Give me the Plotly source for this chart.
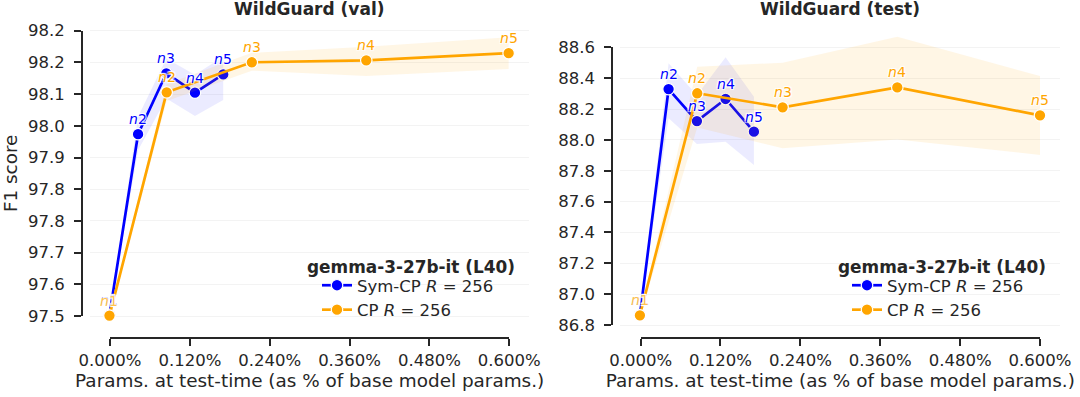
import plotly.graph_objects as go

FONT = "DejaVu Sans"
INK = "#262626"
BLUE = "blue"
ORANGE = "orange"
BLUE_BAND = "rgba(0,0,255,0.08)"
ORANGE_BAND = "rgba(255,165,0,0.10)"

W, H = 1080, 397

# params at test-time (% of base model params)
sym_params = [0.0, 0.043, 0.0855, 0.1285, 0.171]
cp_params = [0.0, 0.086, 0.214, 0.386, 0.600]
point_names = ["n1", "n2", "n3", "n4", "n5"]

# WildGuard (val) F1
val_sym = [97.503, 97.978, 98.138, 98.087, 98.135]
val_sym_lo = [97.498, 97.936, 98.072, 98.026, 98.068]
val_sym_hi = [97.508, 98.024, 98.177, 98.134, 98.182]
val_cp = [97.501, 98.088, 98.167, 98.172, 98.191]
val_cp_lo = [97.496, 98.065, 98.145, 98.131, 98.149]
val_cp_hi = [97.506, 98.110, 98.192, 98.208, 98.233]

# WildGuard (test) F1
test_sym = [86.863, 88.329, 88.122, 88.265, 88.053]
test_sym_lo = [86.858, 88.140, 87.973, 87.988, 87.837]
test_sym_hi = [86.868, 88.496, 88.290, 88.535, 88.280]
test_cp = [86.863, 88.302, 88.211, 88.340, 88.159]
test_cp_lo = [86.858, 88.080, 87.945, 88.003, 87.902]
test_cp_hi = [86.868, 88.474, 88.500, 88.668, 88.414]

x_ticks = [0.0, 0.12, 0.24, 0.36, 0.48, 0.60]
x_ticktext = ["0.000%", "0.120%", "0.240%", "0.360%", "0.480%", "0.600%"]
val_yticks = [97.5, 97.58333, 97.66667, 97.75, 97.83333, 97.91667, 98.0, 98.08333, 98.16667, 98.25]
val_yticktext = ["97.5", "97.6", "97.7", "97.8", "97.8", "97.9", "98.0", "98.1", "98.2", "98.2"]
test_yticks = [86.8, 87.0, 87.2, 87.4, 87.6, 87.8, 88.0, 88.2, 88.4, 88.6]
test_yticktext = ["86.8", "87.0", "87.2", "87.4", "87.6", "87.8", "88.0", "88.2", "88.4", "88.6"]

legend_title = "<b>gemma-3-27b-it (L40)</b>"
sym_name = "Sym-CP <i>R</i> = 256"
cp_name = "CP <i>R</i> = 256"


def px_x(p):
    return p / W


def px_y(p):
    return 1 - p / H


# pixel geometry of each panel (plot box, trimmed spines, tick pixel rows, legend)
panels = [
    dict(title="WildGuard (val)", sym=(val_sym, val_sym_lo, val_sym_hi),
         cp=(val_cp, val_cp_lo, val_cp_hi), yticks=val_yticks, yticktext=val_yticktext,
         box_x=(89.5, 528.6), spine_x=(110, 509.3), yspine_px=82,
         tick_px=(316, 30.7), legend_px=(317, 268), legtitle_px=(411, 267)),
    dict(title="WildGuard (test)", sym=(test_sym, test_sym_lo, test_sym_hi),
         cp=(test_cp, test_cp_lo, test_cp_hi), yticks=test_yticks, yticktext=test_yticktext,
         box_x=(619.9, 1060), spine_x=(640.6, 1040), yspine_px=612.3,
         tick_px=(325, 47.3), legend_px=(847, 268), legtitle_px=(942, 267)),
]
box_y = (330, 22)
xspine_px = 338.3

shadow = "1px 1px 1px white, -1px -1px 1px white, 1px -1px 1px white, -1px 1px 1px white"

fig = go.Figure()
layout = {}
annotations = []

for i, p in enumerate(panels):
    n = i + 1
    xa, ya = "x" if n == 1 else "x%d" % n, "y" if n == 1 else "y%d" % n
    sx, sy = "x%d" % (n + 2), "y%d" % (n + 2)
    leg = "legend" if n == 1 else "legend2"

    # data y range so that tick values land on the tick pixel rows
    lo_px, hi_px = p["tick_px"]
    t0, t1 = p["yticks"][0], p["yticks"][-1]
    upp = (t1 - t0) / (lo_px - hi_px)
    yrange = [t0 - (box_y[0] - lo_px) * upp, t1 + (hi_px - box_y[1]) * upp]

    for params, (mid, lo, hi), col, band, name in [
        (sym_params, p["sym"], BLUE, BLUE_BAND, sym_name),
        (cp_params, p["cp"], ORANGE, ORANGE_BAND, cp_name),
    ]:
        fig.add_scatter(x=params, y=lo, xaxis=xa, yaxis=ya, mode="lines",
                        line=dict(width=0), showlegend=False, hoverinfo="skip")
        fig.add_scatter(x=params, y=hi, xaxis=xa, yaxis=ya, mode="lines",
                        line=dict(width=0), fill="tonexty", fillcolor=band,
                        showlegend=False, hoverinfo="skip")
        fig.add_scatter(x=params, y=mid, xaxis=xa, yaxis=ya, mode="lines+markers",
                        name=name, legend=leg,
                        line=dict(color=col, width=2.7),
                        marker=dict(size=11.5, color=col, line=dict(color="white", width=1.2)))
        for k, (xv, yv) in enumerate(zip(params, mid)):
            # the shared n1 label is the top (orange) one, drawn a bit paler
            lab_col = "#ffc44f" if (k == 0 and col == ORANGE) else col
            annotations.append(dict(
                x=xv, y=yv, xref=xa, yref=ya, text="<i>n</i>" + point_names[k][1:],
                showarrow=False, yshift=15,
                font=dict(family=FONT, size=14, color=lab_col, shadow=shadow)))

    # dummy trace so the spine subplot is drawn
    fig.add_scatter(x=[None], y=[None], xaxis=sx, yaxis=sy, showlegend=False, hoverinfo="skip")

    layout["xaxis" if n == 1 else "xaxis%d" % n] = dict(
        domain=[px_x(p["box_x"][0]), px_x(p["box_x"][1])], range=[-0.03, 0.63],
        showgrid=False, zeroline=False, showline=False, showticklabels=False, ticks="",
        anchor=ya, automargin=False)
    layout["yaxis" if n == 1 else "yaxis%d" % n] = dict(
        domain=[px_y(box_y[0]), px_y(box_y[1])], range=yrange,
        tickvals=p["yticks"], showgrid=True, gridcolor="#f3f3f3", gridwidth=1,
        zeroline=False, showline=False, showticklabels=False, ticks="", anchor=xa,
        automargin=False)

    layout["xaxis%d" % (n + 2)] = dict(
        domain=[px_x(p["spine_x"][0]), px_x(p["spine_x"][1])], range=[0, 0.6],
        anchor="free", position=px_y(xspine_px), automargin=False,
        showline=True, linecolor=INK, linewidth=2, ticks="outside", ticklen=7,
        tickwidth=2, tickcolor=INK, tickvals=x_ticks, ticktext=x_ticktext,
        showgrid=False, zeroline=False,
        tickfont=dict(family=FONT, size=16.5, color=INK),
        title=dict(text="Params. at test-time (as % of base model params.)",
                   font=dict(family=FONT, size=18.4, color=INK), standoff=4))
    layout["yaxis%d" % (n + 2)] = dict(
        domain=[px_y(lo_px), px_y(hi_px)], range=[t0, t1],
        anchor="free", position=px_x(p["yspine_px"]), side="left", automargin=False,
        showline=True, linecolor=INK, linewidth=2, ticks="outside", ticklen=7,
        tickwidth=2, tickcolor=INK, tickvals=p["yticks"], ticktext=p["yticktext"],
        ticklabelstandoff=6, showgrid=False, zeroline=False,
        tickfont=dict(family=FONT, size=16.5, color=INK),
        title=dict(text="F1 score" if n == 1 else "",
                   font=dict(family=FONT, size=18.4, color=INK), standoff=8))

    layout[leg] = dict(
        x=px_x(p["legend_px"][0]), y=px_y(p["legend_px"][1]), xanchor="left", yanchor="top",
        bgcolor="rgba(0,0,0,0)", font=dict(family=FONT, size=16.5, color=INK),
        traceorder="normal", tracegroupgap=0, itemwidth=30)

    annotations.append(dict(
        x=px_x(p["legtitle_px"][0]), y=px_y(p["legtitle_px"][1]), xref="paper", yref="paper",
        text=legend_title, showarrow=False, xanchor="center", yanchor="middle",
        font=dict(family=FONT, size=16.9, color=INK)))
    annotations.append(dict(
        x=px_x(sum(p["box_x"]) / 2), y=px_y(9), xref="paper", yref="paper",
        text="<b>%s</b>" % p["title"], showarrow=False, xanchor="center", yanchor="middle",
        font=dict(family=FONT, size=17, color=INK)))

fig.update_layout(
    width=W, height=H, margin=dict(l=0, r=0, t=0, b=0),
    paper_bgcolor="white", plot_bgcolor="rgba(0,0,0,0)",
    font=dict(family=FONT, size=16, color=INK),
    annotations=annotations, **layout)

# drop the browser's default page margin so the figure sits at the window corner
fig.write_html("out.html", config={"displayModeBar": False},
               post_script="document.body.style.margin = '0';")
